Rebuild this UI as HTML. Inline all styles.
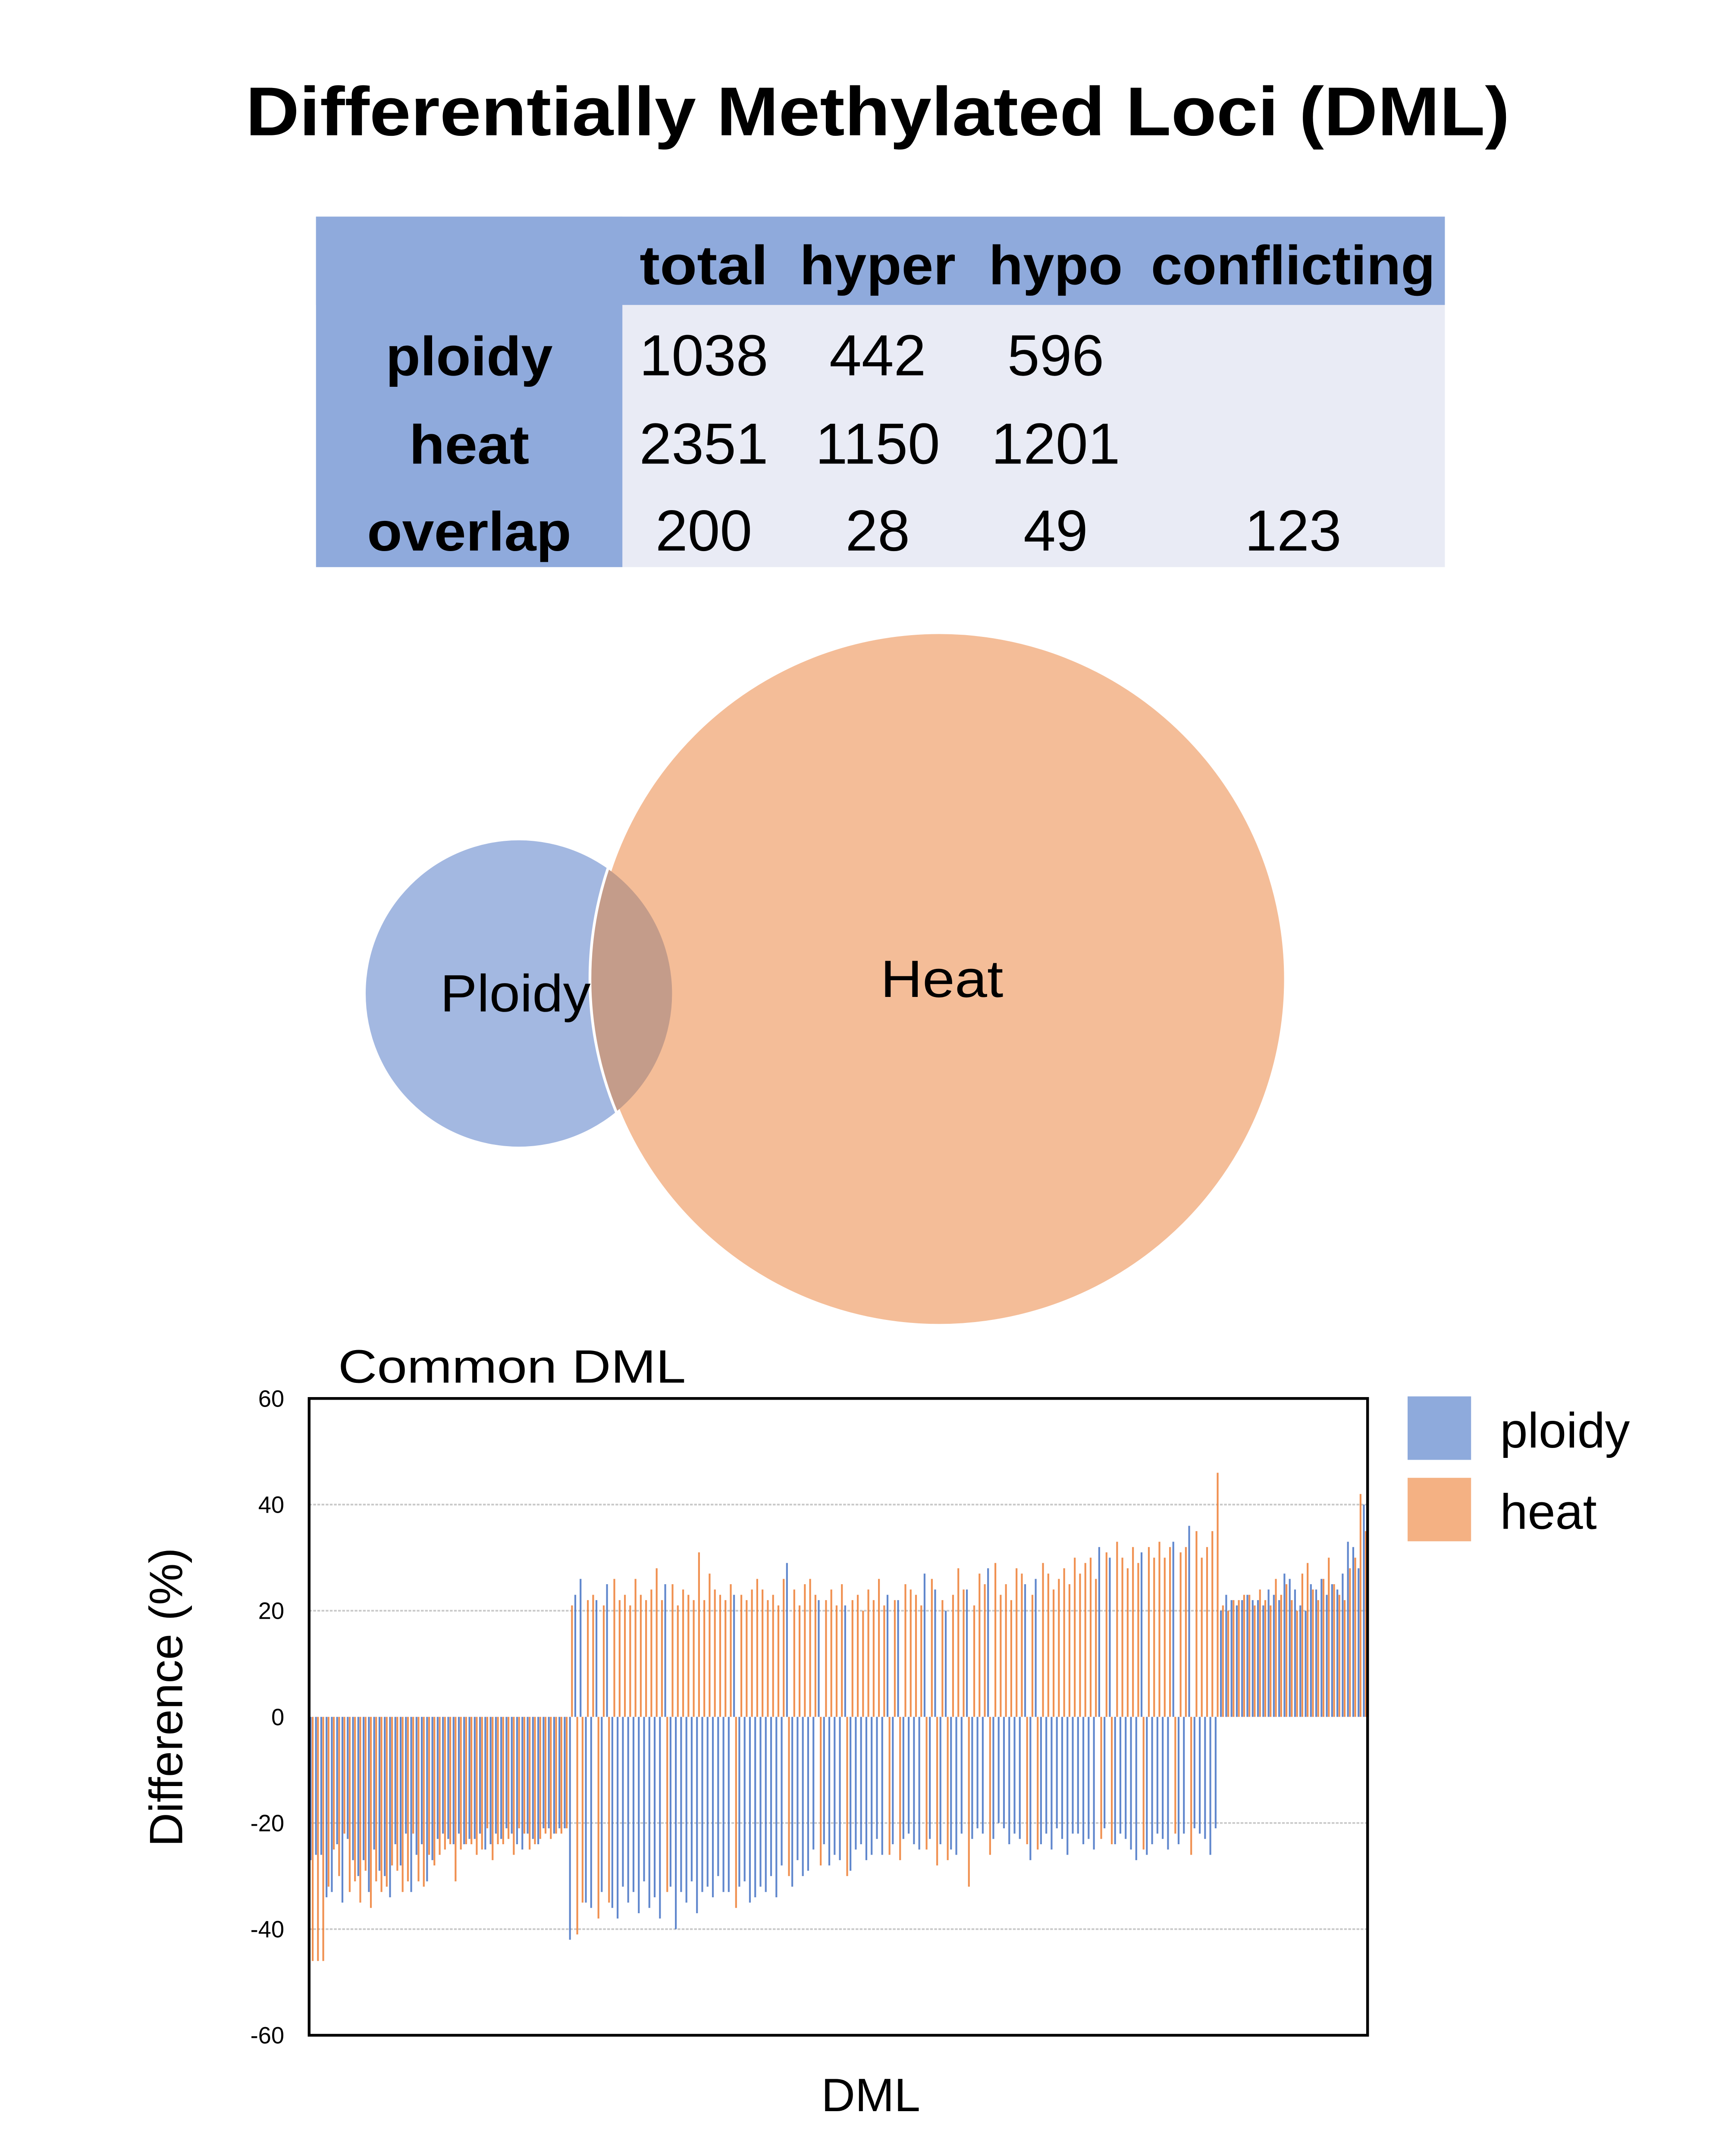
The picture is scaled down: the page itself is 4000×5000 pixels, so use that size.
<!DOCTYPE html>
<html><head><meta charset="utf-8"><style>
html,body{margin:0;padding:0;background:#fff}
svg{display:block}
text{font-family:"Liberation Sans",sans-serif;fill:#000}
</style></head><body>
<svg id="root" width="4000" height="5000" viewBox="0 0 1250 1562.5" xmlns="http://www.w3.org/2000/svg">
<text x="636" y="98" text-anchor="middle" font-size="50" font-weight="bold" textLength="916" lengthAdjust="spacingAndGlyphs">Differentially Methylated Loci (DML)</text>

<g>
<rect x="229" y="157" width="818" height="254" fill="#e9ebf5"/>
<rect x="229" y="157" width="818" height="64" fill="#8faadc"/>
<rect x="229" y="157" width="222" height="254" fill="#8faadc"/>
<g font-weight="bold" font-size="40" text-anchor="middle">
<text x="510" y="206" textLength="93" lengthAdjust="spacingAndGlyphs">total</text>
<text x="636" y="206" textLength="113" lengthAdjust="spacingAndGlyphs">hyper</text>
<text x="765" y="206" textLength="97" lengthAdjust="spacingAndGlyphs">hypo</text>
<text x="937" y="206" textLength="206" lengthAdjust="spacingAndGlyphs">conflicting</text>
<text x="340" y="272" textLength="121" lengthAdjust="spacingAndGlyphs">ploidy</text>
<text x="340" y="336" textLength="87" lengthAdjust="spacingAndGlyphs">heat</text>
<text x="340" y="399" textLength="148" lengthAdjust="spacingAndGlyphs">overlap</text>
</g>
<g font-size="42" text-anchor="middle">
<text x="510" y="272">1038</text>
<text x="636" y="272">442</text>
<text x="765" y="272">596</text>
<text x="510" y="336">2351</text>
<text x="636" y="336">1150</text>
<text x="765" y="336">1201</text>
<text x="510" y="399">200</text>
<text x="636" y="399">28</text>
<text x="765" y="399">49</text>
<text x="937" y="399">123</text>
</g>
</g>

<g>
<defs><clipPath id="heatClip"><circle cx="680.5" cy="709.5" r="252"/></clipPath></defs>
<circle cx="376" cy="720" r="111" fill="#a3b8e1"/>
<circle cx="680.5" cy="709.5" r="252" fill="#f4bd98" stroke="#fff" stroke-width="4"/>
<circle cx="376" cy="720" r="111" fill="#c49c8a" clip-path="url(#heatClip)"/>
<text x="319" y="733" font-size="38" textLength="109" lengthAdjust="spacingAndGlyphs">Ploidy</text>
<text x="638" y="722.5" font-size="38" textLength="89" lengthAdjust="spacingAndGlyphs">Heat</text>
</g>

<g id="chart"></g>
</svg>
<script>
const ploidyVals = [-27,-26,-26,-34,-33,-24,-35,-23,-27,-30,-27,-33,-25,-29,-30,-34,-24,-28,-22,-33,-26,-24,-31,-27,-23,-22,-23,-24,-22,-24,-23,-23,-22,-25,-24,-22,-23,-21,-22,-24,-25,-22,-23,-24,-21,-21,-22,-21,-21,
-42,23,26,-35,-36,22,-33,25,-36,-38,-32,-35,-33,-37,-31,-36,-34,-38,25,-32,-40,-33,-35,-31,-37,-33,-32,-34,-30,-33,-33,23,-32,-31,-35,-34,-32,-33,-30,-34,-28,29,-32,-27,-30,-29,-25,22,-24,-28,-26,-27,21,-29,-25,-24,-27,-26,-23,-26,23,-24,22,-23,-22,-24,-25,27,-23,24,-24,20,-25,-26,-22,24,-23,-21,-22,28,-23,-20,-21,-24,-22,-23,25,-27,26,-24,-22,-25,-21,-23,-26,-22,-22,-24,-23,-25,32,-21,30,-24,-22,-23,-25,-27,31,-26,-24,-22,-23,-25,33,-24,-22,36,-21,-22,-23,-26,-21,
20,23,22,21,22,23,22,22,21,24,23,22,27,26,24,21,20,25,24,26,23,25,24,27,33,32,28,40];
const heatVals = [-46,-46,-46,-32,-25,-30,-22,-33,-31,-35,-29,-36,-31,-33,-32,-28,-29,-33,-31,-22,-31,-32,-26,-28,-26,-25,-24,-31,-25,-24,-24,-26,-25,-21,-27,-24,-24,-23,-26,-21,-22,-25,-24,-23,-22,-23,-22,-22,-21,
21,-41,-35,22,23,-38,21,-35,26,22,23,21,26,23,22,24,28,22,-33,25,21,24,23,22,31,22,27,24,23,22,25,-36,23,22,24,26,24,22,23,21,26,-30,24,21,25,26,23,-28,22,24,21,25,-30,22,23,20,24,22,26,21,-26,22,-27,25,24,23,21,-25,26,-28,22,-27,23,28,24,-32,21,27,25,-26,29,23,25,22,28,27,-24,23,-25,29,27,24,26,28,25,30,27,29,30,26,-23,31,-24,33,30,28,32,29,-25,32,30,33,30,32,-22,31,32,-26,35,30,32,35,46,
21,20,22,22,23,23,21,24,22,21,26,23,25,22,20,27,29,24,22,26,30,25,23,22,28,30,42,35];
const yTicks = [60,40,20,0,-20,-40,-60];
const seriesNames = ["ploidy","heat"];

const NS="http://www.w3.org/2000/svg";
const chart=document.getElementById('chart');
const X0=224,X1=991,Y0=1013.5,Y1=1475,YMIN=-60,YMAX=60;
const n=ploidyVals.length;
const step=(X1-X0)/n;
function yS(v){return Y0+(YMAX-v)/(YMAX-YMIN)*(Y1-Y0);}
function xS(i){return X0+i*step;}
function mk(tag,attrs,parent){const e=document.createElementNS(NS,tag);for(const k in attrs)e.setAttribute(k,attrs[k]);(parent||chart).appendChild(e);return e;}

yTicks.forEach(t=>{
  if(t!==60&&t!==-60&&t!==0){
    const g=mk('line',{x1:X0,x2:X1,y1:yS(t),y2:yS(t),stroke:'#c8c8c8','stroke-width':1.2,'stroke-dasharray':'2,1'});
    
    
  }
  const tl=mk('text',{x:206,y:yS(t)+6,'text-anchor':'end','font-size':17});
  tl.textContent=String(t);
  
  
});
const bw=step*0.34;
for(let i=0;i<n;i++){
  const p=ploidyVals[i],h=heatVals[i];
  const bp=mk('rect',{x:xS(i)+step*0.12,y:Math.min(yS(p),yS(0)),width:bw,height:Math.abs(yS(p)-yS(0)),fill:'#4472c4','fill-opacity':0.85});
  
  
  const bh=mk('rect',{x:xS(i)+step*0.5,y:Math.min(yS(h),yS(0)),width:bw,height:Math.abs(yS(h)-yS(0)),fill:'#ed7d31','fill-opacity':0.85});
  
  
}
const frame=mk('rect',{x:X0,y:Y0,width:X1-X0,height:Y1-Y0,fill:'none',stroke:'#000','stroke-width':2});


const ct=mk('text',{x:245,y:1002,'font-size':34,textLength:252,lengthAdjust:'spacingAndGlyphs'});
ct.textContent='Common DML';


const xt=mk('text',{x:631,y:1530,'font-size':34,'text-anchor':'middle'});
xt.textContent='DML';


const yt=mk('text',{x:0,y:0,'font-size':34,'text-anchor':'middle',transform:'translate(132,1230) rotate(-90)'});
yt.textContent='Difference (%)';


const legColors=['#8eaadc','#f4b183'];
seriesNames.forEach((s,k)=>{
  const r=mk('rect',{x:1020,y:1012+k*59,width:46,height:46,fill:legColors[k]});
  
  
  const t=mk('text',{x:1087,y:1049+k*59,'font-size':36});
  t.textContent=s;
  
  
});
</script>
</body></html>
